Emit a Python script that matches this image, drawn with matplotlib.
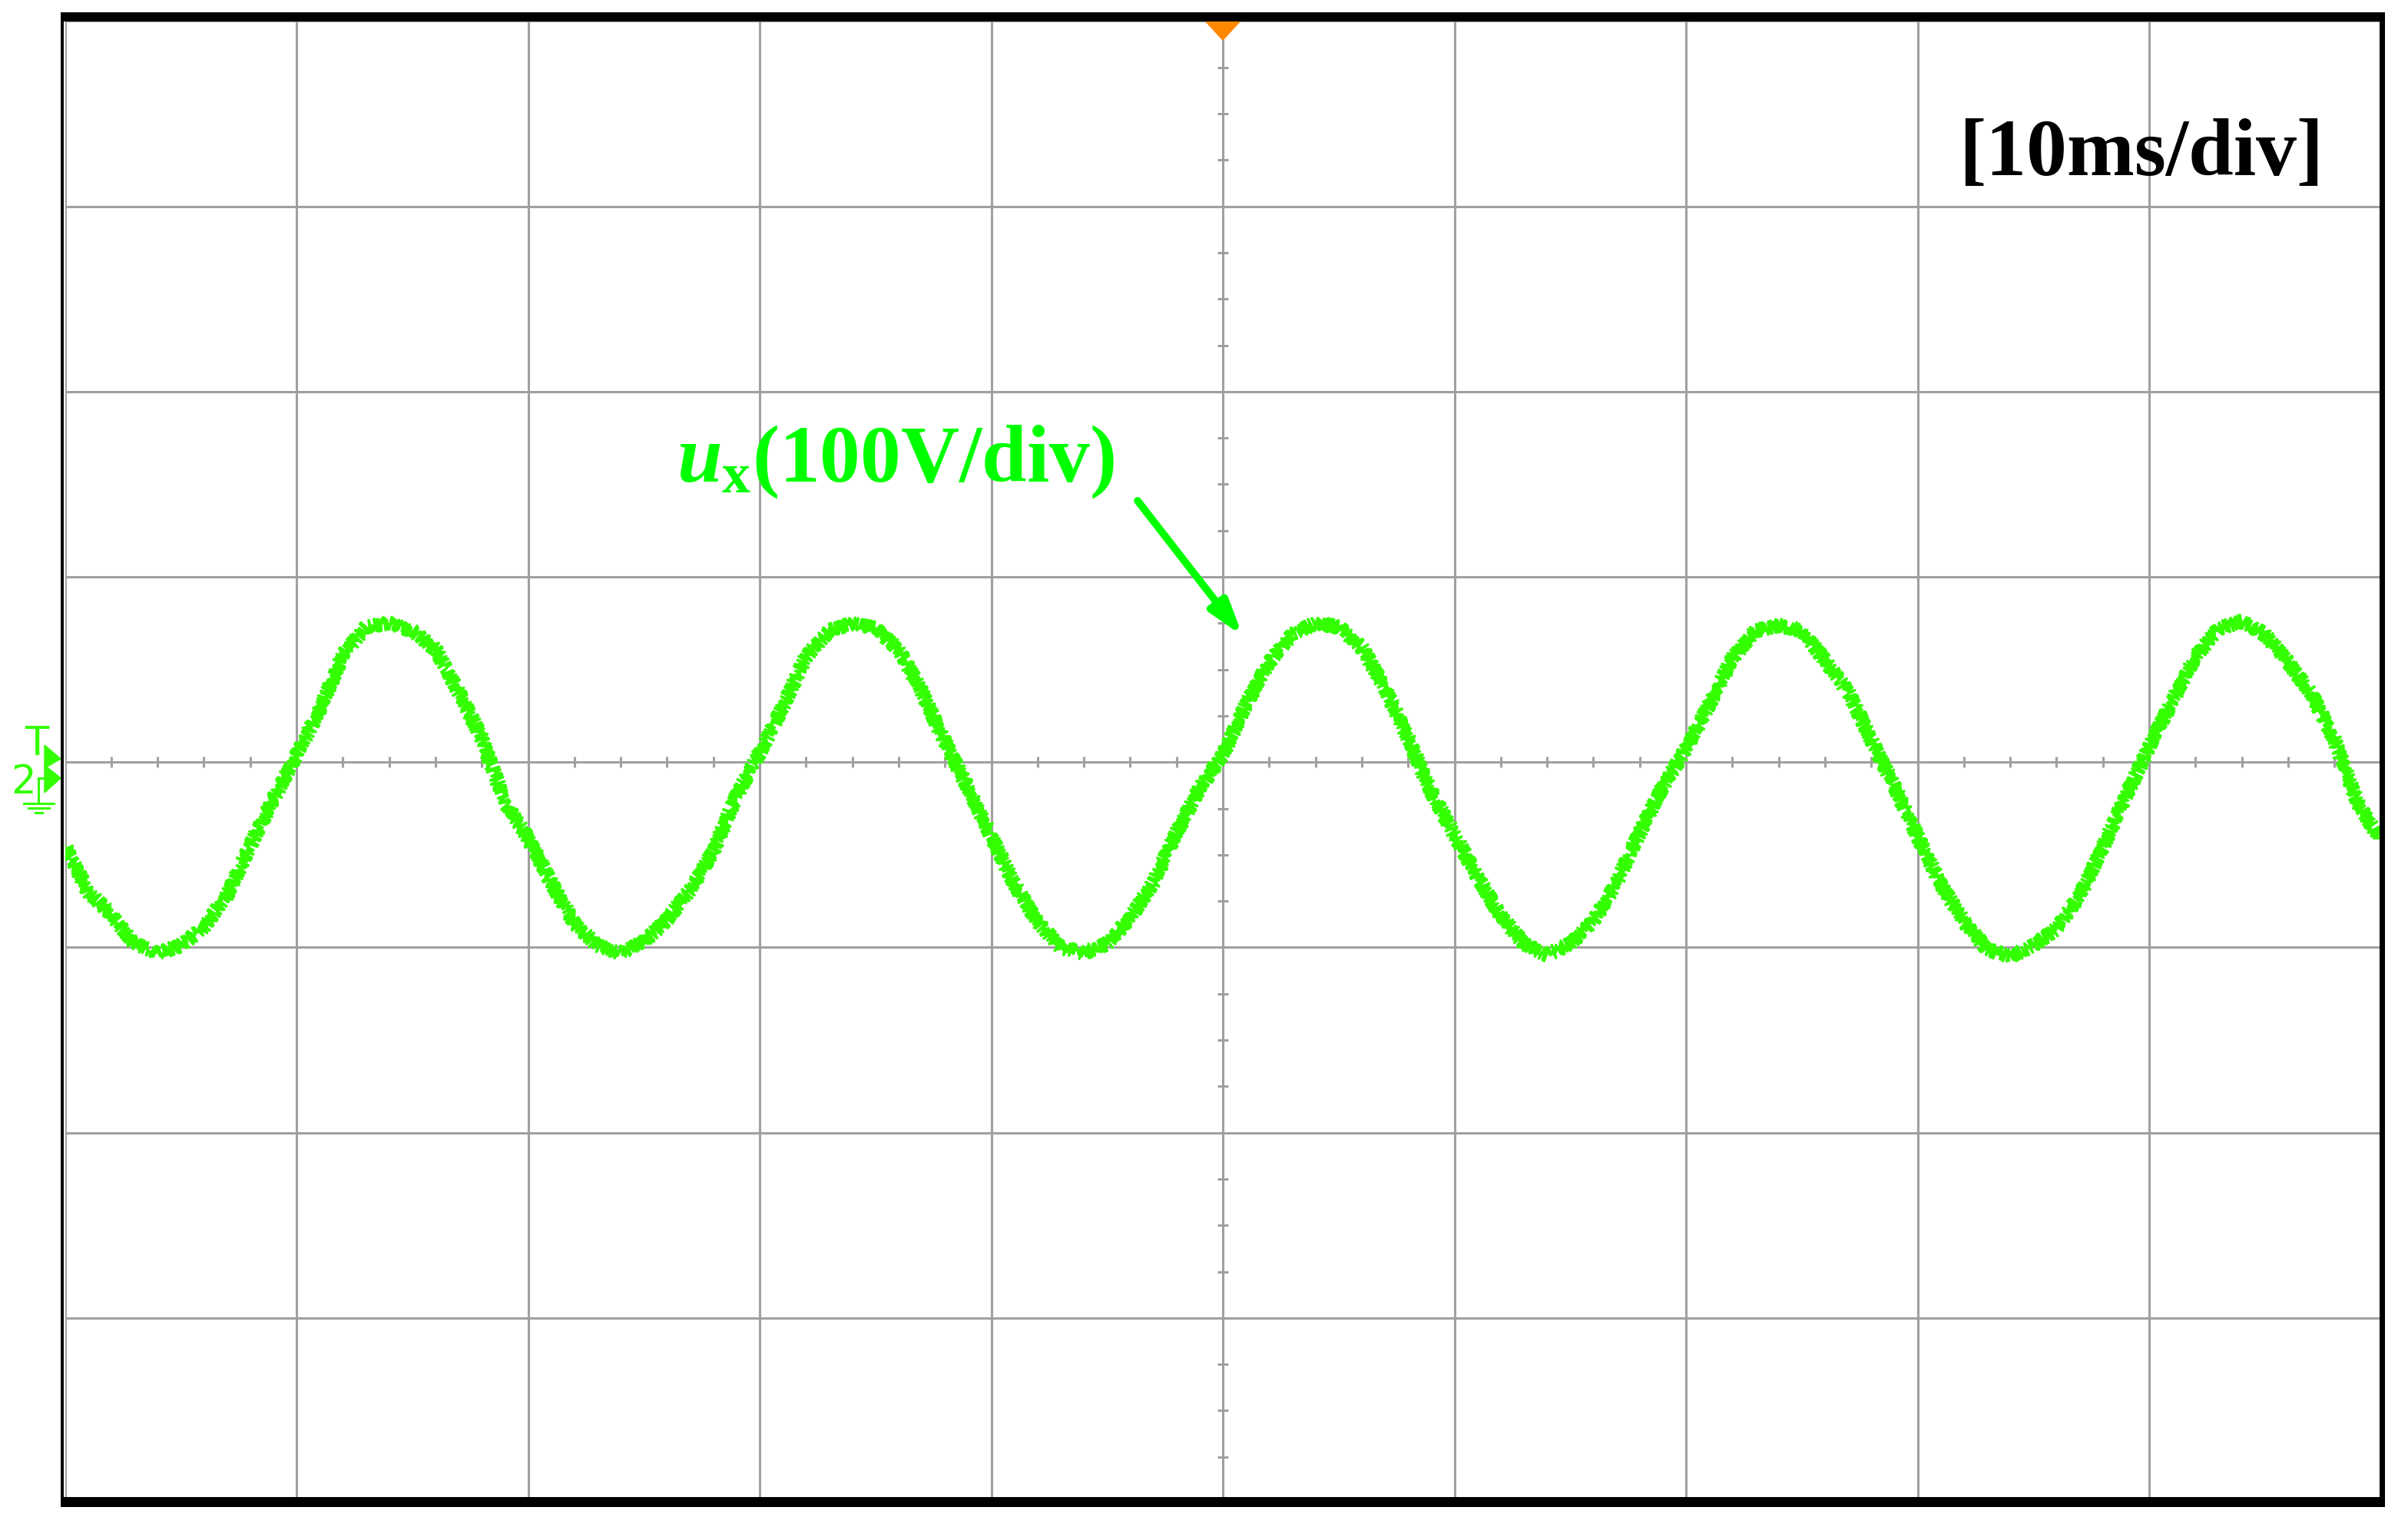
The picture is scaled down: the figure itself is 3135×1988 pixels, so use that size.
import matplotlib.pyplot as plt
import numpy as np
from matplotlib.lines import Line2D
from matplotlib.patches import Polygon, Rectangle

# u_x, one sample per ms (volts)
t_ms = np.arange(0, 101, 1)
u_x = [-45, -70, -82, -98, -103, -99, -89, -72, -45, -20,
       4, 28, 58, 73, 75, 71, 61, 38, 13, -22,
       -41, -65, -87, -99, -103, -97, -85, -69, -48, -18,
       5, 30, 57, 71, 75, 72, 61, 38, 11, -14,
       -40, -66, -86, -100, -103, -98, -84, -65, -38, -14,
       4, 31, 54, 69, 75, 73, 62, 40, 13, -16,
       -39, -62, -83, -98, -104, -98, -86, -65, -38, -13,
       7, 31, 56, 71, 74, 71, 55, 38, 12, -13,
       -40, -66, -86, -101, -105, -99, -90, -72, -46, -18,
       8, 33, 57, 72, 76, 69, 54, 37, 12, -22,
       -42]

ms_per_div = 10
v_per_div = 100
n_xdiv, n_ydiv = 10, 8

time_label = "[10ms/div]"
trace_label = r"$\mathit{u}_{\mathrm{x}}$(100V/div)"

plt.rcParams["mathtext.fontset"] = "custom"
plt.rcParams["mathtext.it"] = "Liberation Serif:italic:bold"
plt.rcParams["mathtext.rm"] = "Liberation Serif:bold"
plt.rcParams["mathtext.bf"] = "Liberation Serif:bold"

W, H = 3135, 1988
grey = "#a0a0a0"
trace_green = "#33ff00"
label_green = "#00ff00"

fig = plt.figure(figsize=(W / 100, H / 100), dpi=100)
ax = fig.add_axes([84.5 / W, (H - 1957) / H, 3015 / W, 1929.5 / H])
ax.set_xlim(0, n_xdiv * ms_per_div)
ax.set_ylim(-n_ydiv / 2 * v_per_div, n_ydiv / 2 * v_per_div)

# scope graticule
ax.set_xticks(np.arange(0, n_xdiv * ms_per_div + 1, ms_per_div))
ax.set_yticks(np.arange(-400, 401, v_per_div))
ax.tick_params(length=0, labelbottom=False, labelleft=False)
ax.grid(color=grey, lw=2.2)
ax.set_axisbelow(True)
for s in ax.spines.values():
    s.set_visible(False)

xmid = n_xdiv * ms_per_div / 2
ax.plot(np.arange(0, 101, 2), np.zeros(51), ls="none", marker="|", ms=10,
        mew=2.2, color=grey, zorder=1)
ax.plot(np.full(33, xmid), np.arange(-400, 401, 25), ls="none", marker="_",
        ms=10, mew=2.2, color=grey, zorder=1)

# trace
line, = ax.plot(t_ms, u_x, color=trace_green, lw=2.4, zorder=3)
line.set_sketch_params(scale=9, length=2.5, randomness=2)

# trigger position marker
ax.add_patch(Polygon([(xmid - 0.75, 400), (xmid + 0.75, 400), (xmid, 389.8)],
                     closed=True, color="#ff8800", zorder=4, clip_on=False))

# labels
ax.text(2788 / W, 1 - 228 / H, time_label, transform=fig.transFigure,
        ha="center", va="baseline", fontsize=76, fontweight="bold",
        family="Liberation Serif", color="black")
ax.text(881 / W, 1 - 627 / H, trace_label, transform=fig.transFigure,
        ha="left", va="baseline", fontsize=76, fontweight="bold",
        family="Liberation Serif", color=label_green)
ax.annotate("", xy=(50.86, 68.1), xytext=(46.32, 141.1),
            arrowprops=dict(arrowstyle="-|>,head_length=1.35,head_width=0.42",
                            mutation_scale=20, lw=7, color=label_green,
                            shrinkA=0, shrinkB=0, capstyle="round"),
            zorder=5)


def fx(px):
    return px / W


def fy(py):
    return 1 - py / H


# channel 2 marker on the left edge
fig.text(fx(48), fy(983), "T", ha="center", va="baseline", fontsize=37,
         color=trace_green, family="DejaVu Sans")
fig.text(fx(31), fy(1033), "2", ha="center", va="baseline", fontsize=37,
         color=trace_green, family="DejaVu Sans")
for tri in ([(58, 970), (79, 988), (58, 1000)], [(58, 996), (79, 1013), (58, 1032)]):
    fig.add_artist(Polygon([(fx(a), fy(b)) for a, b in tri], closed=True,
                           transform=fig.transFigure, color=trace_green))
gnd = [((50, 58), (1013, 1013)), ((50, 50), (1013, 1046)),
       ((31, 70), (1046, 1046)), ((37, 64), (1052, 1052)), ((46, 55), (1058, 1058))]
for xs, ys in gnd:
    fig.add_artist(Line2D([fx(v) for v in xs], [fy(v) for v in ys],
                          transform=fig.transFigure, color=trace_green, lw=2.2))

# black frame around the screen
for x0, y0, x1, y1 in [(79, 16, 3105, 28), (79, 1949, 3105, 1962),
                       (79, 16, 83, 1962), (3098, 16, 3105, 1962)]:
    fig.add_artist(Rectangle((fx(x0), fy(y1)), (x1 - x0) / W, (y1 - y0) / H,
                             transform=fig.transFigure, color="black", lw=0))

fig.savefig("out.png", dpi=100)
